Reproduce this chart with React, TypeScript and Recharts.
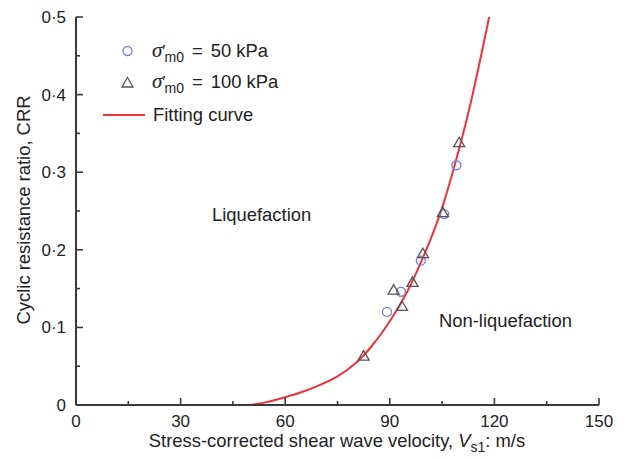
import React from "react";
import { ComposedChart, XAxis, YAxis, Scatter, Line } from "recharts";

const circleX = [89.2, 93.2, 98.9, 105.6, 109.1];
const circleY = [0.12, 0.146, 0.186, 0.246, 0.309];

const triX = [82.5, 91.1, 93.5, 96.5, 99.5, 105.2, 109.9];
const triY = [0.063, 0.148, 0.127, 0.158, 0.195, 0.248, 0.338];

const curveX = [50, 55, 60, 65, 70, 75, 80, 85, 90, 95, 100, 105, 110, 114, 118.5];
const curveY = [0, 0.004, 0.01, 0.017, 0.026, 0.037, 0.053, 0.077, 0.108, 0.146, 0.195, 0.254, 0.332, 0.405, 0.5];

const xTicks = [0, 15, 30, 45, 60, 75, 90, 105, 120, 135, 150];
const yTicks = [0, 0.05, 0.1, 0.15, 0.2, 0.25, 0.3, 0.35, 0.4, 0.45, 0.5];

const circles = circleX.map((x, i) => ({ x, y: circleY[i] }));
const triangles = triX.map((x, i) => ({ x, y: triY[i] }));
const curve = curveX.map((x, i) => ({ x, y: curveY[i] }));

const FONT = "'Liberation Sans', Arial, sans-serif";
const AXIS = "#3a3a3a";
const TXT = "#222";
const FS = 18.4;

const XTick = (props: any) => {
  const { x, y, payload } = props;
  const v = payload.value;
  const major = v % 30 === 0;
  return (
    <g>
      <line x1={x} x2={x} y1={y} y2={y - (major ? 7 : 4)} stroke={AXIS} strokeWidth={1.6} />
      {major && (
        <text x={x} y={y + 22} textAnchor="middle" fontFamily={FONT} fontSize={17} fill={TXT}>
          {v}
        </text>
      )}
    </g>
  );
};

const YTick = (props: any) => {
  const { x, y, payload } = props;
  const v = payload.value;
  const k = Math.round(v * 100);
  const major = k % 10 === 0;
  const label = k === 0 ? "0" : "0\u00b7" + Math.round(v * 10);
  return (
    <g>
      <line x1={x} x2={x + (major ? 7 : 4)} y1={y} y2={y} stroke={AXIS} strokeWidth={1.6} />
      {major && (
        <text x={x - 10} y={y + 6} textAnchor="end" fontFamily={FONT} fontSize={17} fill={TXT}>
          {label}
        </text>
      )}
    </g>
  );
};

const CircleShape = (props: any) => (
  <circle cx={props.cx} cy={props.cy} r={4.5} fill="none" stroke="#7d84cf" strokeWidth={1.4} />
);

const TriShape = (props: any) => {
  const { cx, cy } = props;
  const pts = `${cx},${cy - 5.5} ${cx - 5.5},${cy + 4} ${cx + 5.5},${cy + 4}`;
  return <polygon points={pts} fill="none" stroke="#555" strokeWidth={1.3} />;
};

const Sigma = ({ rest }: { rest: string }) => (
  <>
    <tspan fontFamily="'Liberation Serif', serif" fontStyle="italic" fontSize={21}>σ</tspan>
    <tspan fontSize={17}>′</tspan>
    <tspan dx={-1} dy={5} fontSize={14}>m0</tspan>
    <tspan dx={8} dy={-5}>=</tspan>
    <tspan dx={8}>{rest}</tspan>
  </>
);

export default function App() {
  return (
    <div style={{ position: "absolute", left: 0, top: 0, width: 630, height: 459, background: "#fff" }}>
      <ComposedChart width={630} height={459} margin={{ top: 17, right: 31, bottom: 0, left: 0 }}>
        <XAxis
          dataKey="x"
          type="number"
          domain={[0, 150]}
          ticks={xTicks}
          interval={0}
          tickSize={0}
          tickMargin={0}
          tick={<XTick />}
          tickLine={false}
          axisLine={{ stroke: AXIS, strokeWidth: 2 }}
          height={54}
        />
        <YAxis
          dataKey="y"
          type="number"
          domain={[0, 0.5]}
          ticks={yTicks}
          interval={0}
          tickSize={0}
          tickMargin={0}
          tick={<YTick />}
          tickLine={false}
          axisLine={{ stroke: AXIS, strokeWidth: 2 }}
          width={76}
        />
        <Line
          data={curve}
          dataKey="y"
          type="natural"
          stroke="#f2313a"
          strokeWidth={2}
          dot={false}
          isAnimationActive={false}
        />
        <Scatter data={circles} dataKey="y" shape={<CircleShape />} isAnimationActive={false} />
        <Scatter data={triangles} dataKey="y" shape={<TriShape />} isAnimationActive={false} />
      </ComposedChart>
      <svg
        width={630}
        height={459}
        style={{ position: "absolute", left: 0, top: 0, pointerEvents: "none" }}
        fontFamily={FONT}
        fill={TXT}
      >
        <circle cx={127.5} cy={51} r={4.5} fill="none" stroke="#7d84cf" strokeWidth={1.4} />
        <text x={152} y={57} fontSize={FS}>
          <Sigma rest="50 kPa" />
        </text>
        <polygon points="127.5,77.5 122,87 133,87" fill="none" stroke="#555" strokeWidth={1.3} />
        <text x={152} y={88} fontSize={FS}>
          <Sigma rest="100 kPa" />
        </text>
        <line x1={103} x2={145} y1={115} y2={115} stroke="#f2313a" strokeWidth={2} />
        <text x={153} y={121} fontSize={FS}>Fitting curve</text>

        <text x={212} y={221} fontSize={FS}>Liquefaction</text>
        <text x={439} y={327} fontSize={FS}>Non-liquefaction</text>

        <text x={337} y={447} fontSize={FS} textAnchor="middle">
          Stress-corrected shear wave velocity,{" "}
          <tspan fontStyle="italic">V</tspan>
          <tspan dy={5} fontSize={14}>s1</tspan>
          <tspan dy={-5}>: m/s</tspan>
        </text>
        <text x={30} y={210} fontSize={FS} textAnchor="middle" transform="rotate(-90 30 210)">
          Cyclic resistance ratio, CRR
        </text>
      </svg>
    </div>
  );
}
